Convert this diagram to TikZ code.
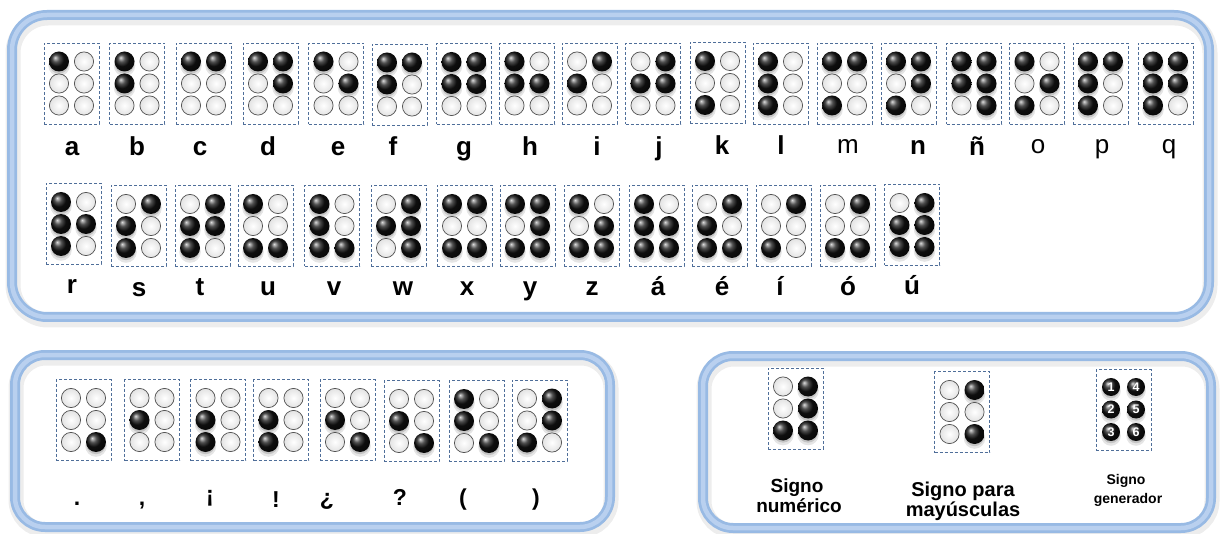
\documentclass[tikz,border=0pt]{standalone}
\usepackage{fontspec}
\setmainfont{Liberation Sans}
\definecolor{frameblue}{HTML}{98BAE4}
\definecolor{framelight}{HTML}{B9D0EF}
\definecolor{dashblue}{HTML}{4F6E99}
\tikzset{
  cellbox/.style={draw=dashblue, dash pattern=on 3pt off 2pt, line width=0.9pt,
    minimum width=55pt, minimum height=81pt, inner sep=0pt},
  lbl/.style={anchor=base, inner sep=0pt, font=\fontsize{26}{30}\selectfont\bfseries},
  lblr/.style={anchor=base, inner sep=0pt, font=\fontsize{26}{30}\selectfont},
  plbl/.style={anchor=base, inner sep=0pt, font=\fontsize{23}{26}\selectfont\bfseries},
  slbl/.style={anchor=base, inner sep=0pt, font=\fontsize{19}{21}\selectfont\bfseries},
  slblb/.style={anchor=base, inner sep=0pt, font=\fontsize{20}{22}\selectfont\bfseries},
  glbl/.style={anchor=base, inner sep=0pt, font=\fontsize{14}{16}\selectfont\bfseries},
  numtxt/.style={text=white, inner sep=0pt, font=\fontsize{12.5}{12.5}\selectfont\bfseries},
}
\newcommand\blackdot[3]{%
  \fill[black, opacity=.10] (#1,#2+4) circle (#3+0.8pt);
  \fill[black, opacity=.14] (#1,#2+2.5) circle (#3-0.3pt);
  \shade[ball color=black!92] (#1,#2) circle (#3);}
\newcommand\whitedot[3]{%
  \shadedraw[inner color=white, outer color=gray!22, draw=gray!65!black, line width=0.7pt] (#1,#2) circle (#3-0.4pt);}
\newcommand\brcell[9]{%
  \node[cellbox] (#1) at (#2,#3) {};
  \foreach \k/\v in {1/#4,2/#5,3/#6,4/#7,5/#8,6/#9}{%
    \pgfmathtruncatemacro\cc{(\k-1)/3}%
    \pgfmathtruncatemacro\rr{\k-1-3*\cc}%
    \pgfmathsetmacro\px{#2+(\cc-0.5)*25}%
    \pgfmathsetmacro\py{#3+(\rr-1)*22}%
    \ifnum\v=1 \blackdot{\px}{\py}{10pt}\else\whitedot{\px}{\py}{10pt}\fi
  }}
\newcommand\drawframe[5]{%
  \draw[black, opacity=.07, line width=15pt, rounded corners=#5] (#1+1,#2+3) rectangle (#3+1,#4+3);
  \draw[frameblue, line width=10pt, rounded corners=#5] (#1,#2) rectangle (#3,#4);
  \draw[framelight, line width=4.5pt, rounded corners=#5] (#1,#2) rectangle (#3,#4);}
\begin{document}
\begin{tikzpicture}[x=1pt,y=-1pt]
\fill[white] (0,0) rectangle (1220,534);
\useasboundingbox (0,0) rectangle (1220,534);
% frames
\drawframe{12}{15}{1209}{317}{35pt}
\drawframe{15}{355}{610}{527}{30pt}
\drawframe{703}{356}{1211}{528}{30pt}
% top row
\brcell{ca}{71.5}{83.5}{1}{0}{0}{0}{0}{0}
\brcell{cb}{137}{83.5}{1}{1}{0}{0}{0}{0}
\brcell{cc}{203.5}{83.5}{1}{0}{0}{1}{0}{0}
\brcell{cd}{270.5}{83.5}{1}{0}{0}{1}{1}{0}
\brcell{ce}{336}{83.5}{1}{0}{0}{0}{1}{0}
\brcell{cf}{399.5}{84.5}{1}{1}{0}{1}{0}{0}
\brcell{cg}{464}{84}{1}{1}{0}{1}{1}{0}
\brcell{ch}{527}{83.5}{1}{1}{0}{0}{1}{0}
\brcell{ci}{589.5}{83.5}{0}{1}{0}{1}{0}{0}
\brcell{cj}{653}{83.5}{0}{1}{0}{1}{1}{0}
\brcell{ck}{717.5}{83}{1}{0}{1}{0}{0}{0}
\brcell{cl}{780.5}{83.5}{1}{1}{1}{0}{0}{0}
\brcell{cm}{844.5}{83.5}{1}{0}{1}{1}{0}{0}
\brcell{cn}{908.5}{83.5}{1}{0}{1}{1}{1}{0}
\brcell{cnn}{974}{83.5}{1}{1}{0}{1}{1}{1}
\brcell{co}{1037}{83.5}{1}{0}{1}{0}{1}{0}
\brcell{cp}{1100.5}{83.5}{1}{1}{1}{1}{0}{0}
\brcell{cq}{1165.5}{83.5}{1}{1}{1}{1}{1}{0}
\node[lbl] (la) at (72,156) {a};
\node[lbl] (lb) at (137,156) {b};
\node[lbl] (lc) at (200,156) {c};
\node[lbl] (ld) at (268,156) {d};
\node[lbl] (le) at (338,156) {e};
\node[lbl] (lf) at (393,156) {f};
\node[lbl] (lg) at (464,156) {g};
\node[lbl] (lh) at (530,156) {h};
\node[lbl] (li) at (597,156) {i};
\node[lbl] (lj) at (659,156) {j};
\node[lbl] (lk) at (722,155) {k};
\node[lbl] (ll) at (781,155) {l};
\node[lblr] (lm) at (848,154) {m};
\node[lbl] (ln) at (918,155) {n};
\node[lbl] (lnn) at (977,156) {ñ};
\node[lblr] (lo) at (1038,154) {o};
\node[lblr] (lp) at (1102,154) {p};
\node[lblr] (lq) at (1169,154) {q};
% second row
\brcell{cr}{73.5}{224}{1}{1}{1}{0}{1}{0}
\brcell{cs}{138.5}{226}{0}{1}{1}{1}{0}{0}
\brcell{ct}{202.5}{226}{0}{1}{1}{1}{1}{0}
\brcell{cu}{265.5}{226}{1}{0}{1}{0}{0}{1}
\brcell{cv}{332}{226}{1}{1}{1}{0}{0}{1}
\brcell{cw}{398.5}{226}{0}{1}{0}{1}{1}{1}
\brcell{cx}{464.5}{226}{1}{0}{1}{1}{0}{1}
\brcell{cy}{527.5}{226}{1}{0}{1}{1}{1}{1}
\brcell{cz}{591.5}{226}{1}{0}{1}{0}{1}{1}
\brcell{caa}{656.5}{226}{1}{1}{1}{0}{1}{1}
\brcell{cee}{719.5}{226}{0}{1}{1}{1}{0}{1}
\brcell{cii}{783.5}{226}{0}{0}{1}{1}{0}{0}
\brcell{coo}{847.5}{226}{0}{0}{1}{1}{0}{1}
\brcell{cuu}{912}{225}{0}{1}{1}{1}{1}{1}
\node[lbl] (lr) at (72,294) {r};
\node[lbl] (ls) at (139,297) {s};
\node[lbl] (lt) at (200,296) {t};
\node[lbl] (lu) at (268,296) {u};
\node[lbl] (lv) at (334,296) {v};
\node[lbl] (lw) at (403,296) {w};
\node[lbl] (lx) at (467,296) {x};
\node[lbl] (ly) at (530,296) {y};
\node[lbl] (lz) at (592,296) {z};
\node[lbl] (laa) at (658,296) {á};
\node[lbl] (lee) at (722,296) {é};
\node[lbl] (lii) at (780,296) {í};
\node[lbl] (loo) at (848,296) {ó};
\node[lbl] (luu) at (912,295) {ú};
% punctuation
\brcell{cpt}{83.5}{420}{0}{0}{0}{0}{0}{1}
\brcell{ccm}{152}{420}{0}{1}{0}{0}{0}{0}
\brcell{cexo}{218}{420}{0}{1}{1}{0}{0}{0}
\brcell{cexc}{281}{420}{0}{1}{1}{0}{0}{0}
\brcell{cqo}{347.5}{420}{0}{1}{0}{0}{0}{1}
\brcell{cqc}{411.5}{421}{0}{1}{0}{0}{0}{1}
\brcell{cpo}{476.5}{421}{1}{1}{0}{0}{0}{1}
\brcell{cpc}{539.5}{420.5}{0}{0}{1}{1}{1}{0}
\node[plbl] (lpt) at (77,505) {.};
\node[plbl] (lcm) at (142,505) {,};
\node[plbl] (lexo) at (210,502) {¡};
\node[plbl] (lexc) at (276,507) {!};
\node[plbl] (lqo) at (327,505) {¿};
\node[plbl] (lqc) at (400,505) {?};
\node[plbl] (lpo) at (463,505) {(};
\node[plbl] (lpc) at (536,505) {)};
% signs
\brcell{cnum}{795.5}{408.5}{0}{0}{1}{1}{1}{1}
\brcell{cmay}{962}{412}{0}{0}{0}{1}{0}{1}
\node[cellbox] (cgen) at (1123.5,410) {};
\foreach \k/\cx/\cy in {1/0/0,2/0/1,3/0/2,4/1/0,5/1/1,6/1/2}{%
  \blackdot{1111+25*\cx}{387+22.5*\cy}{9pt}
  \node[numtxt] (g\k) at (1111+25*\cx,387+22.5*\cy) {\k};
}
\node[slbl] (lnum1) at (797,492) {Signo};
\node[slbl] (lnum2) at (799,512) {numérico};
\node[slblb] (lmay1) at (963,496) {Signo para};
\node[slblb] (lmay2) at (963,516) {mayúsculas};
\node[glbl] (lgen1) at (1126,484) {Signo};
\node[glbl] (lgen2) at (1128,503) {generador};
\end{tikzpicture}
\end{document}
